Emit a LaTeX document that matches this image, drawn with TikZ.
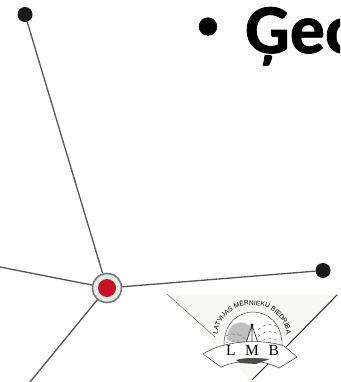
\documentclass[tikz,border=0pt]{standalone}
\usepackage{fontspec}
\setmainfont{Carlito}
\newfontfamily\titlefont[FakeBold=1.2]{Carlito Bold}
\usetikzlibrary{decorations.text}
\definecolor{spoke}{RGB}{85,85,85}
\definecolor{hubfill}{RGB}{226,238,226}
\definecolor{hubred}{RGB}{200,16,40}
\definecolor{tri}{RGB}{247,247,245}
\tikzset{
  spokeline/.style={draw=spoke,line width=1.3pt},
  endnode/.style={circle,fill=black!90,draw=none,minimum size=15pt,inner sep=0pt},
  hubnode/.style={circle,fill=hubfill,draw=spoke!80,line width=1.6pt,minimum size=29pt,inner sep=0pt},
  reddot/.style={circle,fill=hubred,draw=none,minimum size=18pt,inner sep=0pt},
  logoink/.style={draw=black!70,line width=.5pt},
  titletext/.style={font=\titlefont\fontsize{70}{70}\selectfont,anchor=base west,inner sep=0pt}
}
\begin{document}
\begin{tikzpicture}[x=1pt,y=-1pt]
\useasboundingbox (0,0) rectangle (340,382);
\clip (0,0) rectangle (340,382);
\fill[white] (0,0) rectangle (340,382);
% spokes and nodes
\node[hubnode] (hub) at (107,288) {};
\node[reddot] (core) at (107,288) {};
\node[endnode] (top) at (25,14.5) {};
\node[endnode] (right) at (323,270.5) {};
\coordinate (left) at (0,267);
\coordinate (low) at (30,382);
\draw[spokeline] (hub) -- (top);
\draw[spokeline] (hub) -- (right);
\draw[spokeline] (hub) -- (left);
\draw[spokeline] (hub) -- (low);
% title
\node[font=\titlefont\fontsize{42}{42}\selectfont,inner sep=0pt,anchor=center] (bullet) at (208,28) {•};
\node[titletext] (title) at (245,53) {Ģeo};
% logo
\fill[tri] (167,294) -- (338,294) -- (250,380) -- cycle;
\draw[black!55,line width=.5pt] (167,294) -- (215,337);
\draw[black!90,line width=.9pt] (337,295) -- (284,349);
\draw[black!90,line width=.9pt] (270,362) -- (252,380);
\fill[white] (224,345) .. controls (224,301) and (282,301) .. (282,345) -- cycle;
\draw[logoink] (224,345) .. controls (224,301) and (282,301) .. (282,345);
\fill[black!25] (228,332) .. controls (233,320) and (245,320) .. (252,328) -- (245,345) -- (227,340) -- cycle;
\foreach \d in {0,7,14}{
  \draw[black!60,line width=.4pt,dashed] (258,{330+\d}) .. controls (265,{323+\d}) and (272,{323+\d}) .. (280,{328+\d});
  \draw[black!60,line width=.4pt,dashed] (226,{336+\d}) .. controls (233,{332+\d}) and (240,{334+\d}) .. (247,{340+\d});
}
\draw[black!80,line width=.7pt] (252,325) -- (246,343) (252,325) -- (258,343) (252,325) -- (252,343);
\fill[black] (252,325) circle (1.6);
% banner
\path[fill=white,draw=black!70,line width=.6pt] (203,354) .. controls (222,341) and (262,338) .. (284,346) -- (297,357) -- (279,368) .. controls (262,359) and (240,359) .. (221,367) -- cycle;
\fill[black!70] (236,360) .. controls (246,357) and (258,358) .. (270,359) -- (256,364) -- (240,363) -- cycle;
\node[font=\fontspec{Liberation Serif}\fontsize{15.5}{15.5}\selectfont,inner sep=0pt] (lmb) at (252.5,350) {L\hspace{.62em}M\hspace{.62em}B};
\path[decorate,decoration={text along path,text align=center,
  text={|\fontspec{Liberation Sans}\fontsize{6.6}{6.6}\selectfont|LATVIJAS MĒRNIEKU BIEDRĪBA}}]
  (217,340) .. controls (217,293.3) and (287,293.3) .. (287,340);
\end{tikzpicture}
\end{document}
